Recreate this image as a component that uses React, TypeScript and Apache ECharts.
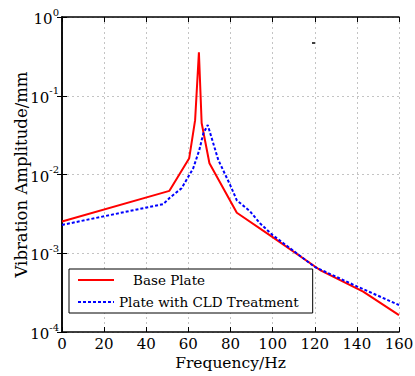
import React, { useEffect, useRef } from "react";
import * as echarts from "echarts";

const freqBase = [0, 51, 60.4, 63.2, 65, 66.3, 70, 83, 100, 123, 143, 160];
const ampBase = [0.00253, 0.0062, 0.0161, 0.049, 0.356, 0.045, 0.0139, 0.00327, 0.0016, 0.0006, 0.000325, 0.000164];

const freqCLD = [0, 48, 51.3, 56.8, 62.3, 65.2, 67.1, 69.2, 71.1, 74.2, 79.8, 83, 89.3, 94, 100, 120, 140, 160];
const ampCLD = [0.00229, 0.0042, 0.0051, 0.0067, 0.012, 0.0205, 0.0333, 0.0425, 0.0288, 0.0153, 0.0074, 0.0047, 0.0034, 0.0024, 0.0017, 0.00067, 0.00038, 0.00022];

const seriesNames = ["Base Plate", "Plate with CLD Treatment"];
const xName = "Frequency/Hz";
const yName = "Vibration Amplitude/mm";

const FONT = "DejaVu Serif";

export default function App() {
  const ref = useRef<HTMLDivElement>(null);
  useEffect(() => {
    if (!ref.current) return;
    const chart = echarts.init(ref.current, null, { renderer: "svg" });
    const gridLine = { show: true, lineStyle: { color: "#c4c4c4", width: 1, type: [2, 3] as any } };
    const axisLine = { show: true, lineStyle: { color: "#000", width: 1.5 } };
    const tick = { show: true, inside: true, length: 5, lineStyle: { color: "#000", width: 1 } };
    chart.setOption({
      animation: false,
      backgroundColor: "#fff",
      textStyle: { fontFamily: FONT },
      grid: { left: 62, right: 16, top: 17, bottom: 44, containLabel: false, outerBoundsMode: "none" },
      xAxis: [
        {
          type: "value",
          min: 0,
          max: 160,
          interval: 20,
          position: "bottom",
          axisLine,
          axisTick: tick,
          splitLine: gridLine,
          axisLabel: { fontFamily: FONT, fontSize: 15, color: "#000", margin: 4 },
          name: xName,
          nameLocation: "middle",
          nameGap: 23,
          nameMoveOverlap: false,
          nameTextStyle: { fontFamily: FONT, fontSize: 15.5, color: "#000" },
        },
        {
          type: "value",
          min: 0,
          max: 160,
          interval: 20,
          position: "top",
          axisLine,
          axisTick: tick,
          splitLine: { show: false },
          axisLabel: { show: false },
        },
      ],
      yAxis: [
        {
          type: "log",
          logBase: 10,
          min: 0.0001,
          max: 1,
          position: "left",
          axisLine,
          axisTick: tick,
          splitLine: gridLine,
          axisLabel: {
            margin: 3,
            color: "#000",
            fontFamily: FONT,
            formatter: (v: number) => `{b|10}{s|${Math.round(Math.log10(v))}}`,
            rich: {
              b: { fontFamily: FONT, fontSize: 15, color: "#000", padding: [4, 0, 0, 0] },
              s: { fontFamily: FONT, fontSize: 10, color: "#000", padding: [0, 0, 10, 0] },
            },
          },
          name: yName,
          nameLocation: "middle",
          nameGap: 32,
          nameMoveOverlap: false,
          nameTextStyle: { fontFamily: FONT, fontSize: 16.5, color: "#000" },
        },
        {
          type: "log",
          logBase: 10,
          min: 0.0001,
          max: 1,
          position: "right",
          axisLine,
          axisTick: tick,
          splitLine: { show: false },
          axisLabel: { show: false },
        },
      ],
      legend: {
        orient: "vertical",
        left: 69,
        top: 269,
        itemWidth: 36,
        itemHeight: 14,
        itemGap: 8,
        padding: [4, 14, 4, 8],
        borderColor: "#000",
        borderWidth: 1,
        backgroundColor: "#fff",
        itemStyle: { opacity: 0 },
        textStyle: {
          fontFamily: FONT,
          fontSize: 13.5,
          color: "#000",
          rich: { p: { width: 14, fontSize: 13.5, fontFamily: FONT } },
        },
        formatter: (name: string) => (name === seriesNames[0] ? `{p| }${name}` : name),
        data: seriesNames,
      },
      graphic: [
        { type: "line", shape: { x1: 312, y1: 43, x2: 315, y2: 43 }, style: { stroke: "#000", lineWidth: 1.5 } },
      ],
      series: [
        {
          name: seriesNames[0],
          type: "line",
          symbol: "none",
          xAxisIndex: 0,
          yAxisIndex: 0,
          data: freqBase.map((f, i) => [f, ampBase[i]]),
          lineStyle: { color: "#ff0000", width: 2 },
          itemStyle: { color: "#ff0000" },
        },
        {
          name: seriesNames[1],
          type: "line",
          symbol: "none",
          xAxisIndex: 0,
          yAxisIndex: 0,
          data: freqCLD.map((f, i) => [f, ampCLD[i]]),
          lineStyle: { color: "#0000ff", width: 2, type: [3, 2] },
          itemStyle: { color: "#0000ff" },
        },
      ],
    });
    return () => chart.dispose();
  }, []);
  return <div ref={ref} style={{ position: "fixed", left: 0, top: 0, width: 415, height: 376 }} />;
}
